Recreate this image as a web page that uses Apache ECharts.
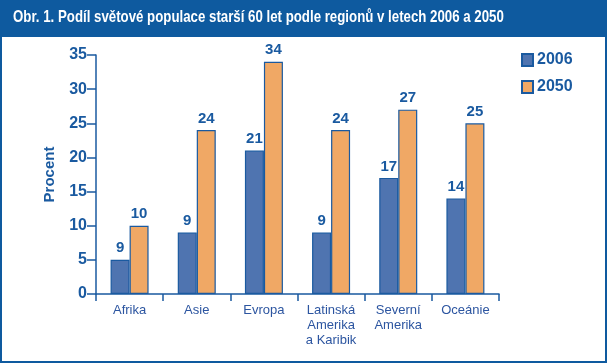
<!DOCTYPE html>
<html>
<head>
<meta charset="utf-8">
<script src="https://cdn.jsdelivr.net/npm/echarts@6/dist/echarts.min.js"></script>
<style>html,body{margin:0;padding:0;background:#fff;}#c{width:607px;height:363px;}</style>
</head>
<body>
<div id="c"></div>
<script>
const titleText = 'Obr. 1. Podíl světové populace starší 60 let podle regionů v letech 2006 a 2050';
const categories = ['Afrika', 'Asie', 'Evropa', 'Latinská\nAmerika\na Karibik', 'Severní\nAmerika', 'Oceánie'];
const seriesNames = ['2006', '2050'];
const values2006 = [5, 9, 21, 9, 17, 14];
const labels2006 = [9, 9, 21, 9, 17, 14];
const values2050 = [10, 24, 34, 24, 27, 25];
const labels2050 = [10, 24, 34, 24, 27, 25];
const yTicks = [0, 5, 10, 15, 20, 25, 30, 35];

const dark = '#1a5aa0';
const chart = echarts.init(document.getElementById('c'), null, {renderer: 'canvas'});
const labelStyle = (arr) => ({
  show: true, position: 'top', distance: 4,
  color: dark, fontWeight: 'bold', fontSize: 15, fontFamily: 'Liberation Sans',
  formatter: p => String(arr[p.dataIndex])
});
chart.setOption({
  backgroundColor: '#ffffff',
  animation: false,
  graphic: [
    {type: 'rect', shape: {x: 0, y: 0, width: 607, height: 37}, style: {fill: '#0e5a9f'}, z: 0},
    {type: 'rect', shape: {x: 1, y: 1, width: 605, height: 361}, style: {fill: null, stroke: '#0e5a9f', lineWidth: 2}, z: 0},
    {type: 'text', left: 13, top: 9, scaleX: 0.78, style: {text: titleText, fill: '#ffffff', font: 'bold 17px "Liberation Sans"'}, z: 2}
  ],
  grid: {left: 96, right: 108, top: 55, bottom: 69, containLabel: false},
  legend: {
    orient: 'vertical', left: 521, top: 52, padding: 0, itemWidth: 11, itemHeight: 12, itemGap: 11,
    icon: 'rect',
    data: seriesNames,
    textStyle: {color: dark, fontWeight: 'bold', fontSize: 16, fontFamily: 'Liberation Sans', padding: [0, 0, 0, -1]}
  },
  xAxis: {
    type: 'category', data: categories,
    axisLine: {lineStyle: {color: dark, width: 1.5}},
    axisTick: {show: true, length: 7, interval: 0, lineStyle: {color: dark, width: 1.5}},
    axisLabel: {interval: 0, color: '#2c55a0', fontSize: 13, lineHeight: 15, margin: 9, fontFamily: 'Liberation Sans'}
  },
  yAxis: {
    type: 'value', min: yTicks[0], max: yTicks[yTicks.length - 1], interval: 5,
    name: 'Procent', nameLocation: 'middle', nameGap: 39, nameRotate: 90,
    nameTextStyle: {color: dark, fontWeight: 'bold', fontSize: 15, fontFamily: 'Liberation Sans'},
    axisLine: {show: true, lineStyle: {color: dark, width: 1.5}},
    axisTick: {show: true, length: 9, lineStyle: {color: dark, width: 1.5}},
    axisLabel: {color: dark, fontWeight: 'bold', fontSize: 16, margin: 9, fontFamily: 'Liberation Sans'},
    splitLine: {show: false}
  },
  series: [
    {name: seriesNames[0], type: 'bar', data: values2006, barWidth: 19, barGap: '0%',
     itemStyle: {color: '#4f74b0', borderColor: dark, borderWidth: 1.2}, label: labelStyle(labels2006)},
    {name: seriesNames[1], type: 'bar', data: values2050, barWidth: 19, barGap: '0%',
     itemStyle: {color: '#f0a865', borderColor: dark, borderWidth: 1.2}, label: labelStyle(labels2050)}
  ]
});
</script>
</body>
</html>
